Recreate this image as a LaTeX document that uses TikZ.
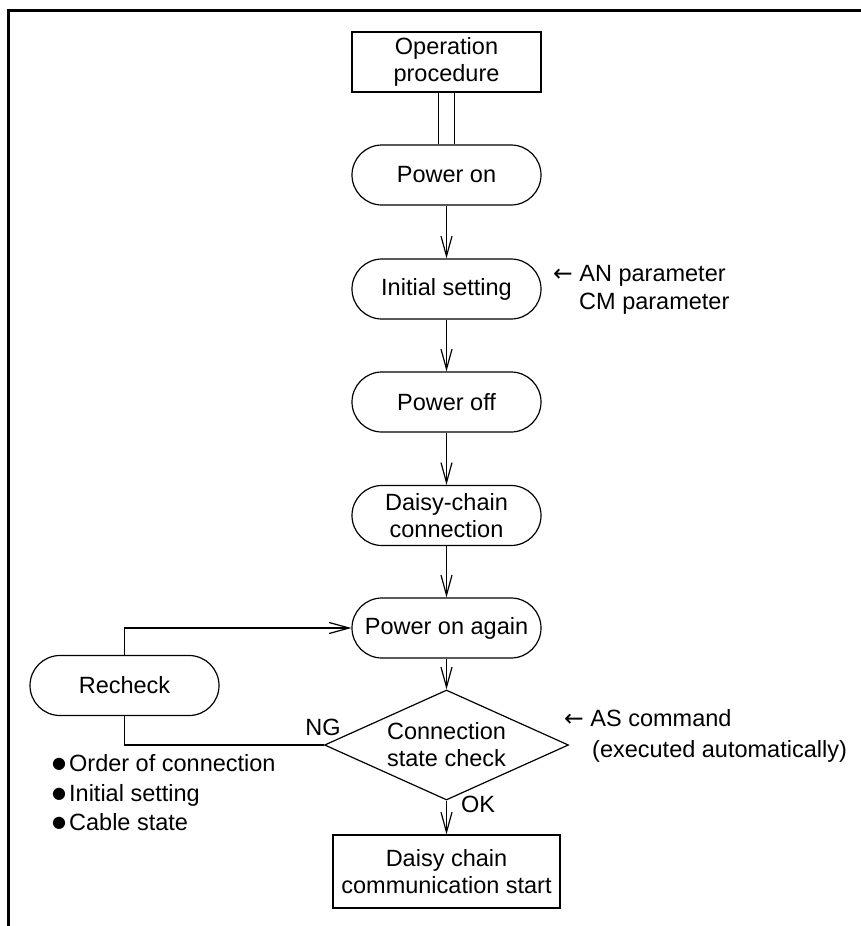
\documentclass[tikz,border=0pt]{standalone}
\usepackage{fontspec}
\setmainfont{Liberation Sans}
\newfontfamily\dejavu{DejaVu Sans}
\usetikzlibrary{arrows.meta,shapes.geometric}
\newcommand{\bul}{\raisebox{3pt}{\dejavu\fontsize{16}{16}\selectfont ●}}
\newcommand{\larr}{{\dejavu ←}}
\begin{document}
\begin{tikzpicture}[x=1pt,y=-1pt,
  every node/.style={font=\fontsize{23.5}{27}\selectfont},
  stadium/.style={draw, line width=1.2pt, rounded corners=30pt, minimum width=189pt, minimum height=60pt, inner sep=0pt, align=center},
  plainbox/.style={draw, line width=1.2pt, minimum width=189pt, minimum height=60pt, inner sep=0pt, align=center},
  flow/.style={line width=1.2pt, -{Straight Barb[length=20pt,width=11pt,line width=1.2pt]}},
  link/.style={line width=1.2pt},
  note/.style={anchor=base west, inner sep=0pt}
]
\useasboundingbox (0,0) rectangle (861,926);
% frame
\draw[line width=3pt] (8,926) -- (8,10) -- (861,10);

\node[plainbox] (op) at (446.5,62) {Operation\\procedure};
\node[stadium] (pon) at (446.5,175) {Power on};
\node[stadium] (init) at (446.5,289) {Initial setting};
\node[stadium] (poff) at (446.5,402) {Power off};
\node[stadium] (dc) at (446.5,515.5) {Daisy-chain\\connection};
\node[stadium] (pa) at (446.5,628) {Power on again};
\node[stadium] (rc) at (124.5,685.5) {Recheck};
\node[draw, line width=1.2pt, diamond, shape aspect=2.218, minimum width=244pt, minimum height=110pt, inner sep=0pt, align=center] (dia) at (446.5,745) {Connection\\state check};
\node[plainbox, minimum width=227pt, minimum height=73pt] (start) at (446.5,871.5) {Daisy chain\\communication start};

% connectors
\draw[link] ([xshift=-8pt]op.south) -- ([xshift=-8pt]pon.north);
\draw[link] ([xshift=8pt]op.south) -- ([xshift=8pt]pon.north);
\draw[flow] (pon) -- (init);
\draw[flow] (init) -- (poff);
\draw[flow] (poff) -- (dc);
\draw[flow] (dc) -- (pa);
\draw[flow] (pa) -- (dia.north);
\draw[flow] (dia.south) -- (start);
\draw[flow] (rc.north) |- (pa.west);
\draw[link] (rc.south) |- (dia.west);

% labels
\node[inner sep=0pt] (ng) at (323,727) {NG};
\node[inner sep=0pt] (ok) at (478,804) {OK};
\node[note] (an) at (553,281) {\larr\ AN parameter};
\node[note] (cm) at (579,309.5) {CM parameter};
\node[note] (as) at (564,726) {\larr\ AS command};
\node[note] (ex) at (592,757) {(executed automatically)};
\node[note] (b1) at (52,771) {\bul\hspace{3pt}Order of connection};
\node[note] (b2) at (52,801) {\bul\hspace{3pt}Initial setting};
\node[note] (b3) at (52,830) {\bul\hspace{3pt}Cable state};
\end{tikzpicture}
\end{document}
